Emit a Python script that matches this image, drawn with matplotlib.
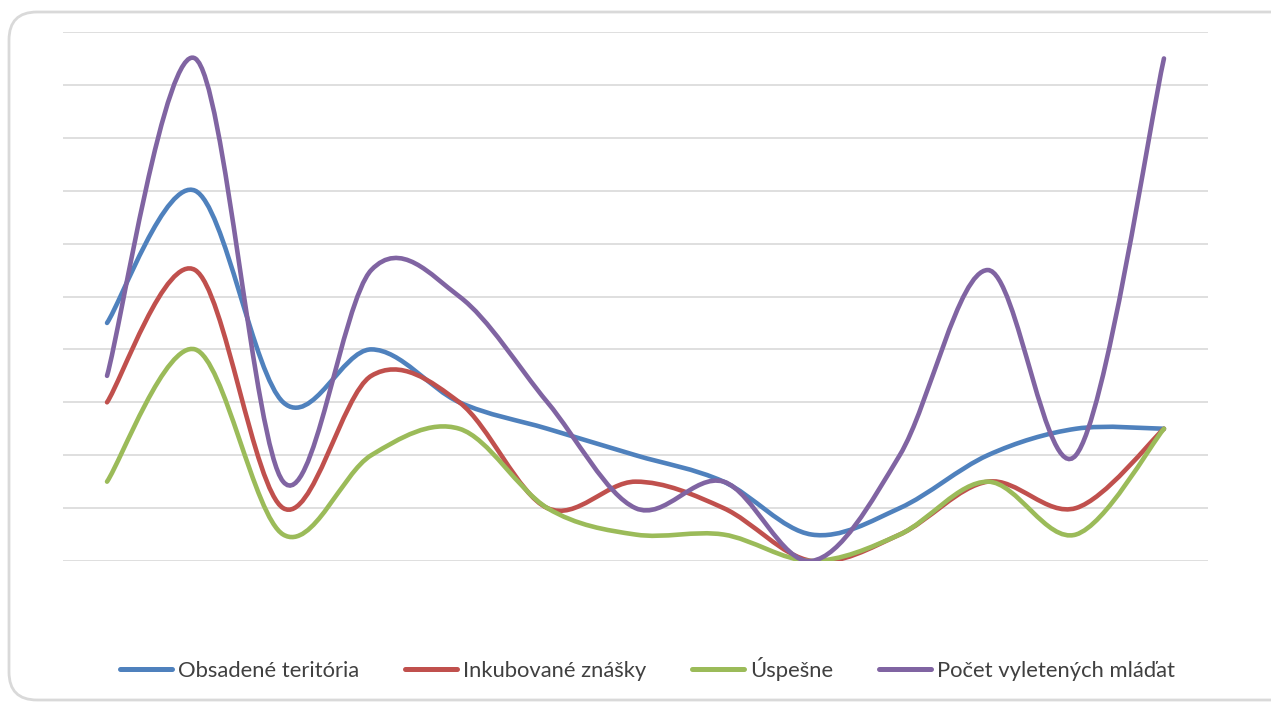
import matplotlib
matplotlib.use("Agg")
import matplotlib.pyplot as plt
from matplotlib.path import Path
from matplotlib.patches import PathPatch, FancyBboxPatch
from matplotlib.lines import Line2D
from matplotlib.transforms import IdentityTransform

# roky / kategórie (bez popisov na osi)
kategorie = list(range(13))

obsadene = [4.5, 7, 3, 4, 3, 2.5, 2, 1.5, 0.5, 1, 2, 2.5, 2.5]
inkubovane = [3, 5.5, 1, 3.5, 3, 1, 1.5, 1, 0, 0.5, 1.5, 1, 2.5]
uspesne = [1.5, 4, 0.5, 2, 2.5, 1, 0.5, 0.5, 0, 0.5, 1.5, 0.5, 2.5]
mladata = [3.5, 9.5, 1.5, 5.5, 5, 3, 1, 1.5, 0, 2, 5.5, 2, 9.5]

nazvy = ["Obsadené teritória", "Inkubované znášky", "Úspešne", "Počet vyletených mláďat"]
farby = ["#4F81BD", "#C0504D", "#9BBB59", "#8064A2"]


def hladka_cesta(x, y):
    """Bezierova cesta cez body (ako vyhladená čiara v Exceli)"""
    n = len(x)
    verts = [(x[0], y[0])]
    codes = [Path.MOVETO]
    for i in range(n - 1):
        x0, y0 = (x[i - 1], y[i - 1]) if i > 0 else (x[i], y[i])
        x3, y3 = (x[i + 2], y[i + 2]) if i + 2 < n else (x[i + 1], y[i + 1])
        c1 = (x[i] + (x[i + 1] - x0) / 6, y[i] + (y[i + 1] - y0) / 6)
        c2 = (x[i + 1] - (x3 - x[i]) / 6, y[i + 1] - (y3 - y[i]) / 6)
        verts += [c1, c2, (x[i + 1], y[i + 1])]
        codes += [Path.CURVE4] * 3
    return Path(verts, codes)


plt.rcParams['font.family'] = ['Lato', 'DejaVu Sans']
fig = plt.figure(figsize=(12.71, 7.02), dpi=100)
ax = fig.add_axes([63 / 1271, 1 - 561 / 702, 1145 / 1271, 529 / 702])

# rámik okolo grafu
fig.patches.append(FancyBboxPatch((9, 2), 1300, 688, boxstyle="round,pad=0,rounding_size=28",
                                  transform=IdentityTransform(), facecolor="none",
                                  edgecolor="#d9d9d9", linewidth=2))

for data, farba in zip([obsadene, inkubovane, uspesne, mladata], farby):
    ax.add_patch(PathPatch(hladka_cesta(kategorie, data), facecolor="none",
                           edgecolor=farba, linewidth=3.3, capstyle="round", zorder=3))

ax.set_xlim(-0.5, 12.5)
ax.set_ylim(0, 10)
ax.set_yticks(range(11))
ax.set_xticks([])
ax.tick_params(left=False, labelleft=False)
ax.grid(axis="y", color="#d9d9d9", linewidth=1.2)
ax.set_axisbelow(True)
for s in ax.spines.values():
    s.set_visible(False)

handles = [Line2D([], [], color=f, linewidth=3.6, solid_capstyle="round") for f in farby]
fig.legend(handles, nazvy, loc="center", bbox_to_anchor=(0.5094, 1 - 669 / 702), ncol=4,
           frameon=False, fontsize=15.8, labelcolor="#404040", handlelength=2.35,
           handletextpad=0.28, columnspacing=2.1)

fig.savefig("out.png", dpi=100)
